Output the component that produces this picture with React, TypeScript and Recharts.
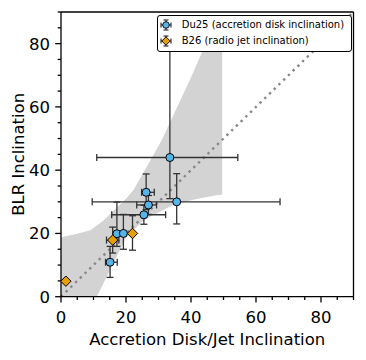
import React from 'react';
import { ComposedChart, Area, Scatter, ErrorBar, XAxis, YAxis, ReferenceLine, Legend } from 'recharts';

const FONT = '"DejaVu Sans", sans-serif';

// Du25 (accretion disk inclination)
const du25X = [33.5, 26.2, 26.9, 35.6, 25.5, 17.2, 19.2, 15.1];
const du25Y = [44, 33, 29, 30, 25.9, 19.9, 20, 10.9];
const du25XErr = [[22.5, 20.9], [1.4, 2.5], [3.6, 2.5], [26, 31.8], [9.9, 6.7], [0, 0], [0, 0], [1.4, 2.2]];
const du25YErr = [[13, 41], [5.5, 5.8], [3, 3], [7, 8.9], [3, 3], [4, 10], [5, 6], [4.8, 5]];

// B26 (radio jet inclination)
const b26X = [22, 15.9, 1.5];
const b26Y = [20, 17.9, 4.9];
const b26XErr = [[0, 0], [1.9, 1.9], [0, 0]];
const b26YErr = [[5.3, 5.6], [4.1, 4.1], [0, 0]];

// confidence band
const bandX = [0, 5, 9, 11, 13, 16, 20, 22.3, 25, 28, 31, 35, 40, 43.3, 47, 49.6];
const bandLow = [0, 0, 0, 0, 4.1, 10.3, 18.6, 21.1, 23.8, 25.6, 27.2, 29.2, 30.5, 31.2, 31.9, 32.3];
const bandHigh = [18.8, 19.9, 21, 22.5, 24, 27, 31, 33.7, 38.6, 44, 49.5, 58.3, 69.3, 77, 88, 88];

// 1:1 line
const oneToOne = [{ x: 0, y: 0 }, { x: 90, y: 90 }];

const allTicks = [0, 5, 10, 15, 20, 25, 30, 35, 40, 45, 50, 55, 60, 65, 70, 75, 80, 85, 90];
const majorTicks = [0, 20, 40, 60, 80];

const du25Data = du25X.map((x, i) => ({ x, y: du25Y[i], ex: du25XErr[i], ey: du25YErr[i] }));
const b26Data = b26X.map((x, i) => ({ x, y: b26Y[i], ex: b26XErr[i], ey: b26YErr[i] }));
const bandData = bandX.map((x, i) => ({ x, band: [bandLow[i], bandHigh[i]] }));

const BLUE = '#56B4E9';
const ORANGE = '#E69F00';
const ERR = '#333333';

const XTick = (props: any) => {
  const { x, y, payload } = props;
  const v = payload.value;
  const major = majorTicks.includes(v);
  return (
    <g>
      <line x1={x} x2={x} y1={y} y2={y + (major ? 5.8 : 3.3)} stroke="#000" strokeWidth={1.3} />
      {major && (
        <text x={x} y={y + 25.8} textAnchor="middle" fontSize={16.5} fontFamily={FONT} fill="#000">{v}</text>
      )}
    </g>
  );
};

const YTick = (props: any) => {
  const { x, y, payload } = props;
  const v = payload.value;
  const major = majorTicks.includes(v);
  return (
    <g>
      <line x1={x - (major ? 5.8 : 3.3)} x2={x} y1={y} y2={y} stroke="#000" strokeWidth={1.3} />
      {major && (
        <text x={x - 11} y={y + 6} textAnchor="end" fontSize={16.5} fontFamily={FONT} fill="#000">{v}</text>
      )}
    </g>
  );
};

const Circle = (props: any) => {
  const { cx, cy } = props;
  return <circle cx={cx} cy={cy} r={4} fill={BLUE} stroke="#000" strokeWidth={1} />;
};

const Diamond = (props: any) => {
  const { cx, cy } = props;
  const r = 5.2;
  return <polygon points={`${cx},${cy - r} ${cx + r},${cy} ${cx},${cy + r} ${cx - r},${cy}`} fill={ORANGE} stroke="#000" strokeWidth={1} />;
};

const LegendIcon = ({ kind }: { kind: 'c' | 'd' }) => (
  <svg width={14} height={14} viewBox="-7 -7 14 14" style={{ position: 'absolute', left: -7, top: -7 }}>
    <line x1={-5} x2={5} y1={0} y2={0} stroke={ERR} strokeWidth={1.2} />
    <line x1={0} x2={0} y1={-5} y2={5} stroke={ERR} strokeWidth={1.2} />
    <line x1={-5} x2={-5} y1={-2.5} y2={2.5} stroke={ERR} strokeWidth={1.2} />
    <line x1={5} x2={5} y1={-2.5} y2={2.5} stroke={ERR} strokeWidth={1.2} />
    <line x1={-2.5} x2={2.5} y1={-5} y2={-5} stroke={ERR} strokeWidth={1.2} />
    <line x1={-2.5} x2={2.5} y1={5} y2={5} stroke={ERR} strokeWidth={1.2} />
    {kind === 'c' ? (
      <circle cx={0} cy={0} r={3.3} fill={BLUE} stroke="#000" strokeWidth={0.9} />
    ) : (
      <polygon points="0,-4.2 4.2,0 0,4.2 -4.2,0" fill={ORANGE} stroke="#000" strokeWidth={0.9} />
    )}
  </svg>
);

const legendItems = [
  { kind: 'c' as const, label: 'Du25 (accretion disk inclination)' },
  { kind: 'd' as const, label: 'B26 (radio jet inclination)' },
];

const LegendBox = () => (
  <div
    style={{
      position: 'relative',
      width: 195,
      height: 37,
      boxSizing: 'border-box',
      border: '1.3px solid #000',
      borderRadius: 3,
      background: '#fff',
      fontFamily: FONT,
      fontSize: 10,
      color: '#000',
    }}
  >
    {legendItems.map((it, i) => (
      <div key={i} style={{ position: 'absolute', left: 0, top: 10.7 + i * 16 - 1.3, width: '100%', height: 0 }}>
        <div style={{ position: 'absolute', left: 9 - 1.3, top: 0 }}>
          <LegendIcon kind={it.kind} />
        </div>
        <div style={{ position: 'absolute', left: 25 - 1.3, top: -7, lineHeight: '14px', whiteSpace: 'nowrap' }}>{it.label}</div>
      </div>
    ))}
  </div>
);

const XLabel = (props: any) => {
  const { viewBox } = props;
  return (
    <text x={viewBox.x + viewBox.width / 2} y={345} textAnchor="middle" fontSize={16.5} fontFamily={FONT} fill="#000">
      Accretion Disk/Jet Inclination
    </text>
  );
};

const YLabel = (props: any) => {
  const { viewBox } = props;
  const cx = 19;
  const cy = viewBox.y + viewBox.height / 2;
  return (
    <text x={cx} y={cy} transform={`rotate(-90 ${cx} ${cy})`} textAnchor="middle" dominantBaseline="central" fontSize={16.5} fontFamily={FONT} fill="#000">
      BLR Inclination
    </text>
  );
};

export default function App() {
  return (
    <div style={{ position: 'absolute', left: 0, top: 0, width: 366, height: 360, background: '#fff' }}>
      <ComposedChart width={366} height={360} data={bandData} margin={{ top: 12, right: 12.5, bottom: 0, left: 0 }}>
        <XAxis
          dataKey="x"
          type="number"
          domain={[0, 90]}
          allowDataOverflow
          ticks={allTicks}
          interval={0}
          height={63.3}
          tickSize={0}
          tickMargin={0}
          tickLine={false}
          tick={<XTick />}
          axisLine={{ stroke: '#000', strokeWidth: 1.3 }}
          label={<XLabel />}
        />
        <YAxis
          dataKey="y"
          type="number"
          domain={[0, 90]}
          allowDataOverflow
          ticks={allTicks}
          interval={0}
          width={61}
          tickSize={0}
          tickMargin={0}
          tickLine={false}
          tick={<YTick />}
          axisLine={{ stroke: '#000', strokeWidth: 1.3 }}
          label={<YLabel />}
        />
        <Area dataKey="band" type="linear" stroke="none" fill="#d3d3d3" fillOpacity={1} isAnimationActive={false} />
        <ReferenceLine
          segment={oneToOne}
          stroke="#888"
          strokeWidth={2.4}
          strokeDasharray="2.4 4.2"
          ifOverflow="visible"
        />
        <ReferenceLine y={90} stroke="#000" strokeWidth={1.3} ifOverflow="visible" />
        <ReferenceLine x={90} stroke="#000" strokeWidth={1.3} ifOverflow="visible" />
        <Scatter data={du25Data} shape={<Circle />} isAnimationActive={false}>
          <ErrorBar dataKey="ex" direction="x" width={3.5} stroke={ERR} strokeWidth={1.3} isAnimationActive={false} />
          <ErrorBar dataKey="ey" direction="y" width={3.5} stroke={ERR} strokeWidth={1.3} isAnimationActive={false} />
        </Scatter>
        <Scatter data={b26Data} shape={<Diamond />} isAnimationActive={false}>
          <ErrorBar dataKey="ex" direction="x" width={3.5} stroke={ERR} strokeWidth={1.3} isAnimationActive={false} />
          <ErrorBar dataKey="ey" direction="y" width={3.5} stroke={ERR} strokeWidth={1.3} isAnimationActive={false} />
        </Scatter>
        <Legend
          layout="horizontal"
          verticalAlign="middle"
          align="center"
          wrapperStyle={{ position: 'absolute', left: 157, top: 15, width: 195, height: 37 }}
          content={() => <LegendBox />}
        />
      </ComposedChart>
    </div>
  );
}
